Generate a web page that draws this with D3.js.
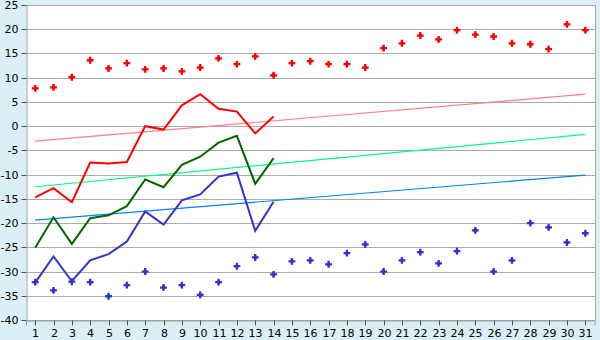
<!DOCTYPE html>
<html><head><meta charset="utf-8">
<script src="https://cdn.jsdelivr.net/npm/d3@7"></script>
<style>body{margin:0;background:#daf0f6;}svg{display:block;}</style>
</head><body>
<script>
const days = d3.range(1, 32).map(String);
const yTicks = [25,20,15,10,5,0,-5,-10,-15,-20,-25,-30,-35,-40];
const maxPts = [7.8,8.0,10.1,13.6,11.9,13.0,11.7,11.9,11.3,12.1,14.0,12.8,14.4,10.5,13.0,13.4,12.8,12.8,12.1,16.1,17.1,18.7,17.9,19.8,18.9,18.5,17.1,16.9,15.9,21.0,19.8];
const minPts = [-32.2,-33.9,-32.1,-32.2,-35.1,-32.8,-30.0,-33.3,-32.8,-34.8,-32.2,-28.9,-27.1,-30.6,-27.9,-27.7,-28.5,-26.2,-24.4,-30.0,-27.7,-26.0,-28.3,-25.8,-21.5,-30.0,-27.7,-20.0,-20.9,-24.0,-22.1];
const redLine = [-14.7,-12.8,-15.7,-7.5,-7.7,-7.4,0.0,-0.7,4.3,6.6,3.6,3.0,-1.5,2.0];
const greenLine = [-25.1,-18.8,-24.3,-19.0,-18.4,-16.5,-11.0,-12.6,-8.0,-6.3,-3.4,-2.0,-11.9,-6.6];
const blueLine = [-32.3,-26.9,-32.0,-27.7,-26.4,-23.8,-17.6,-20.3,-15.3,-14.1,-10.4,-9.6,-21.6,-15.6];
const redTrend = [-3.1, 6.6];
const greenTrend = [-12.5, -1.7];
const blueTrend = [-19.4, -10.1];

const W = 600, H = 340;
const svg = d3.select("body").append("svg").attr("width", W).attr("height", H);
const x = d3.scaleBand().domain(days).range([26, 594.5]).padding(0);
const y = d3.scaleLinear().domain([-40, 25]).range([320, 5]);
const cx = d => x(d) + x.bandwidth() / 2;

svg.append("rect").attr("x", 26).attr("y", 5).attr("width", 594.5 - 26).attr("height", 315).attr("fill", "#fff");

// grid
svg.append("g").selectAll("line").data(yTicks).join("line")
  .attr("x1", 26).attr("x2", 595).attr("y1", d => Math.round(y(d)) + 0.5).attr("y2", d => Math.round(y(d)) + 0.5)
  .attr("stroke", "#aaaaaa").attr("stroke-width", 1);
svg.append("line").attr("x1", 595.5).attr("x2", 595.5).attr("y1", 5).attr("y2", 320.5).attr("stroke", "#aaaaaa");

// axes
const yAxis = svg.append("g").attr("transform", "translate(26.5,0)")
  .call(d3.axisLeft(y).tickValues(yTicks).tickSize(5).tickPadding(3).tickFormat(d => String(d)));
const xAxis = svg.append("g").attr("transform", "translate(0,320.5)")
  .call(d3.axisBottom(x).tickSize(5).tickPadding(4));
[yAxis, xAxis].forEach(g => {
  g.select(".domain").attr("stroke", "#999");
  g.selectAll(".tick line").attr("stroke", "#555");
  g.selectAll("text").attr("font-family", "DejaVu Sans, Verdana, sans-serif").attr("font-size", 11).attr("fill", "#000");
});
yAxis.selectAll(".tick").attr("transform", d => `translate(0,${Math.round(y(d)) + 0.5})`);
xAxis.selectAll(".tick").attr("transform", d => `translate(${Math.round(cx(d)) + 0.5},0)`);

// trend lines
const trendLine = (vals, color) => svg.append("line")
  .attr("x1", cx(days[0])).attr("x2", cx(days[days.length - 1]))
  .attr("y1", y(vals[0])).attr("y2", y(vals[1]))
  .attr("stroke", color).attr("stroke-width", 1.2);
trendLine(redTrend, "#ff8080");
trendLine(greenTrend, "#00ff80");
trendLine(blueTrend, "#0080ff");

// lines
const line = d3.line().x((d, i) => cx(days[i])).y(d => y(d));
const drawLine = (vals, color) => svg.append("path").datum(vals).attr("d", line)
  .attr("fill", "none").attr("stroke", color).attr("stroke-width", 2).attr("stroke-linejoin", "miter");
drawLine(redLine, "#ff0000");
drawLine(greenLine, "#006600");
drawLine(blueLine, "#3333cc");

// markers
const sym = d3.symbol().type(d3.symbolCross).size(26);
const sym2 = d3.symbol().type(d3.symbolDiamond).size(14);
const drawPts = (vals, color) => {
  const g = svg.append("g");
  g.selectAll("path.c").data(vals).join("path").attr("class", "c")
    .attr("d", sym).attr("transform", (d, i) => `translate(${cx(days[i])},${y(d)})`).attr("fill", color);
  g.selectAll("path.d").data(vals).join("path").attr("class", "d")
    .attr("d", sym2).attr("transform", (d, i) => `translate(${cx(days[i])},${y(d)})`).attr("fill", color);
};
drawPts(maxPts, "#ff0000");
drawPts(minPts, "#3333cc");
</script>
</body></html>
